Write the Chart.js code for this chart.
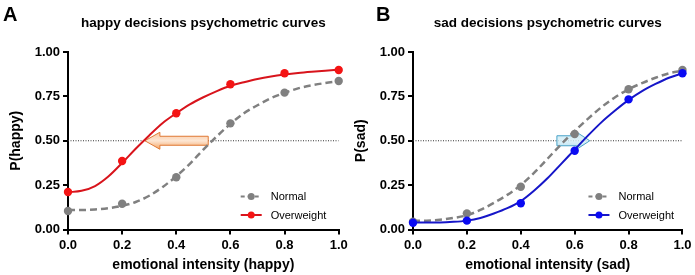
<!DOCTYPE html>
<html>
<head>
<meta charset="utf-8">
<script src="https://cdn.jsdelivr.net/npm/chart.js@4.4.1/dist/chart.umd.min.js"></script>
<style>
html, body { margin: 0; padding: 0; background: #fff; }
#wrap { position: relative; width: 695px; height: 275px; overflow: hidden; }
.panel { position: absolute; top: 0; }
#panelA { left: 0; }
#panelB { left: 345px; }
</style>
</head>
<body>
<div id="wrap">
	<div class="panel" id="panelA"><canvas id="chartA" width="352" height="275"></canvas></div>
	<div class="panel" id="panelB"><canvas id="chartB" width="350" height="275"></canvas></div>
</div>
<script>
// Emotional intensity levels tested
const intensityLevels = [0, 0.2, 0.4, 0.6, 0.8, 1.0];

// Positions at which the fitted curves are sampled
const curveX = [0, 0.05, 0.1, 0.15, 0.2, 0.25, 0.3, 0.35, 0.4, 0.45, 0.5, 0.55, 0.6, 0.65, 0.7, 0.75, 0.8, 0.85, 0.9, 0.95, 1.0];

// Happy decisions - observed proportions
const happyNormal     = [0.104, 0.145, 0.294, 0.598, 0.771, 0.837];
const happyOverweight = [0.211, 0.386, 0.655, 0.818, 0.880, 0.899];

// Happy decisions - fitted curves (read at curveX)
const happyNormalFit     = [0.110, 0.110, 0.113, 0.120, 0.133, 0.155, 0.190, 0.240, 0.300, 0.370, 0.450, 0.525, 0.595, 0.655, 0.700, 0.740, 0.770, 0.795, 0.812, 0.825, 0.835];
const happyOverweightFit = [0.210, 0.218, 0.245, 0.300, 0.375, 0.455, 0.530, 0.600, 0.655, 0.705, 0.745, 0.780, 0.810, 0.830, 0.848, 0.862, 0.873, 0.882, 0.889, 0.895, 0.900];

// Sad decisions - observed proportions
const sadNormal     = [0.044, 0.091, 0.241, 0.538, 0.790, 0.899];
const sadOverweight = [0.038, 0.050, 0.148, 0.444, 0.733, 0.880];

// Sad decisions - fitted curves (read at curveX)
const sadNormalFit     = [0.050, 0.050, 0.055, 0.065, 0.080, 0.110, 0.150, 0.195, 0.250, 0.320, 0.400, 0.480, 0.555, 0.625, 0.690, 0.745, 0.790, 0.825, 0.855, 0.880, 0.895];
const sadOverweightFit = [0.040, 0.040, 0.040, 0.043, 0.050, 0.065, 0.090, 0.120, 0.160, 0.220, 0.290, 0.370, 0.450, 0.530, 0.605, 0.670, 0.730, 0.780, 0.820, 0.855, 0.880];

// Tick labels
const xTicks = [0, 0.2, 0.4, 0.6, 0.8, 1.0];
const yTicks = [0, 0.25, 0.5, 0.75, 1.0];

// Chance level reference line, and the shift arrows along it [tail, tip]
const chanceLevel = 0.5;
const happyShift = [0.518, 0.284];
const sadShift   = [0.534, 0.656];

const FONT = '"Liberation Sans", Arial, sans-serif';
const GREY = '#808080';


// Function to zip x and y arrays into point objects
function toPoints (xs, ys)
{
	return xs.map((x, i) => ({x: x, y: ys[i]}));
}


// Function to draw a block arrow along a horizontal line
function drawArrow (ctx, x0, x1, y, style)
{
	const dir = Math.sign(x1 - x0);
	const xb = x1 - dir * style.headLength;
	ctx.save();
	ctx.beginPath();
	ctx.moveTo(x0, y - style.shaftHalf);
	ctx.lineTo(xb, y - style.shaftHalf);
	ctx.lineTo(xb, y - style.headHalf);
	ctx.lineTo(x1, y);
	ctx.lineTo(xb, y + style.headHalf);
	ctx.lineTo(xb, y + style.shaftHalf);
	ctx.lineTo(x0, y + style.shaftHalf);
	ctx.closePath();
	const grad = ctx.createLinearGradient(0, y - style.headHalf, 0, y + style.headHalf);
	style.fill.forEach((stop, i) => grad.addColorStop(i / (style.fill.length - 1), stop));
	ctx.fillStyle = grad;
	ctx.fill();
	ctx.lineWidth = 1;
	ctx.strokeStyle = style.stroke;
	ctx.stroke();
	ctx.restore();
}


// Plugin drawing the panel letter, legend and shift arrow
const decorPlugin = {
	id: 'decor',
	afterDatasetDraw (chart, args) {
		// Arrow goes just above the chance line (last dataset)
		if (args.index !== chart.data.datasets.length - 1) {return;}
		const o = chart.options.plugins.decor;
		const xs = chart.scales.x, ys = chart.scales.y;
		drawArrow(chart.ctx, xs.getPixelForValue(o.arrow[0]), xs.getPixelForValue(o.arrow[1]), ys.getPixelForValue(chanceLevel), o.arrowStyle);
	},
	afterDraw (chart) {
		const o = chart.options.plugins.decor;
		const ctx = chart.ctx;
		const area = chart.chartArea;
		ctx.save();
		
		// Panel letter
		ctx.fillStyle = '#000';
		ctx.font = 'bold 20px ' + FONT;
		ctx.textBaseline = 'alphabetic';
		ctx.fillText(o.letter, o.letterX, 21);
		
		// Legend
		o.legend.forEach((entry, i) => {
			const x = area.right + o.legendX;
			const y = area.bottom - 33 + i * 18.5;
			ctx.beginPath();
			ctx.setLineDash(entry.dash);
			ctx.lineWidth = 2;
			ctx.strokeStyle = entry.color;
			ctx.moveTo(x, y);
			ctx.lineTo(x + 21, y);
			ctx.stroke();
			ctx.setLineDash([]);
			ctx.beginPath();
			ctx.fillStyle = entry.point;
			ctx.arc(x + 10.5, y, 3.5, 0, Math.PI * 2);
			ctx.fill();
			ctx.fillStyle = '#000';
			ctx.font = '11px ' + FONT;
			ctx.textBaseline = 'middle';
			ctx.fillText(entry.label, x + 30, y + 0.5);
		});
		ctx.restore();
	}
};


// Function to create one panel
function makePanel (canvasId, p)
{
	const datasets = [
		{data: toPoints(intensityLevels, p.overweight), showLine: false, pointRadius: 4.2, pointBackgroundColor: p.pointColour, pointBorderWidth: 0, clip: false},
		{data: toPoints(intensityLevels, p.normal), showLine: false, pointRadius: 4.2, pointBackgroundColor: GREY, pointBorderWidth: 0, clip: false},
		{data: toPoints(curveX, p.overweightFit), borderColor: p.lineColour, borderWidth: 2, pointRadius: 0, cubicInterpolationMode: 'monotone'},
		{data: toPoints(curveX, p.normalFit), borderColor: GREY, borderWidth: 2.5, borderDash: [7, 4], pointRadius: 0, cubicInterpolationMode: 'monotone'},
		{data: toPoints([0, 1], [chanceLevel, chanceLevel]), borderColor: '#333', borderWidth: 1, borderDash: [1, 1.5], pointRadius: 0}
	];
	
	const axisFont = {family: FONT, size: 13, weight: 'bold'};
	
	return new Chart(document.getElementById(canvasId).getContext('2d'), {
		type: 'line',
		data: {datasets: datasets},
		plugins: [decorPlugin],
		options: {
			responsive: false,
			animation: false,
			devicePixelRatio: 1,
			layout: {padding: {left: 0, right: p.padRight, top: 0, bottom: 0}},
			plugins: {
				legend: {display: false},
				tooltip: {enabled: false},
				title: {
					display: true,
					text: p.title,
					fullSize: false,
					color: '#000',
					font: {family: FONT, size: 13.5, weight: 'bold'},
					padding: {top: 15, bottom: 20.8}
				},
				decor: {
					letter: p.letter,
					letterX: p.letterX,
					legendX: p.legendX,
					arrow: p.arrow,
					arrowStyle: p.arrowStyle,
					legend: [
						{label: 'Normal', color: GREY, point: GREY, dash: [4, 3]},
						{label: 'Overweight', color: p.lineColour, point: p.pointColour, dash: []}
					]
				}
			},
			scales: {
				x: {
					type: 'linear',
					min: 0,
					max: 1,
					afterBuildTicks: (scale) => { scale.ticks = xTicks.map(v => ({value: v})); },
					afterFit: (scale) => { scale.height = 45.5; },
					ticks: {color: '#000', font: axisFont, padding: 3.5, maxRotation: 0, callback: (v) => v.toFixed(1)},
					grid: {display: true, drawOnChartArea: false, drawTicks: true, tickLength: 5, color: '#000', lineWidth: 2},
					border: {display: true, color: '#000', width: 2},
					title: {display: true, text: p.xTitle, color: '#000', font: {family: FONT, size: 14, weight: 'bold'}, padding: {top: 0, bottom: 1}}
				},
				y: {
					type: 'linear',
					min: 0,
					max: 1,
					afterBuildTicks: (scale) => { scale.ticks = yTicks.map(v => ({value: v})); },
					afterFit: (scale) => { scale.width = 68; },
					ticks: {color: '#000', font: axisFont, padding: 3, callback: (v) => v.toFixed(2)},
					grid: {display: true, drawOnChartArea: false, drawTicks: true, tickLength: 5, color: '#000', lineWidth: 2},
					border: {display: true, color: '#000', width: 2},
					title: {display: true, text: p.yTitle, color: '#000', font: {family: FONT, size: 14, weight: 'bold'}, padding: {top: 7.5, bottom: 0}}
				}
			}
		}
	});
}


makePanel('chartA', {
	letter: 'A', letterX: 3, legendX: -98, padRight: 13.3,
	title: 'happy decisions psychometric curves',
	xTitle: 'emotional intensity (happy)',
	yTitle: 'P(happy)',
	normal: happyNormal, overweight: happyOverweight,
	normalFit: happyNormalFit, overweightFit: happyOverweightFit,
	lineColour: '#d8141c', pointColour: '#f41414',
	arrow: happyShift,
	arrowStyle: {headLength: 15, shaftHalf: 4.5, headHalf: 8.5, fill: ['#f9c7a0', '#fde6d3', '#f4a565'], stroke: '#e07a36'}
});

makePanel('chartB', {
	letter: 'B', letterX: 31, legendX: -94, padRight: 11,
	title: 'sad decisions psychometric curves',
	xTitle: 'emotional intensity (sad)',
	yTitle: 'P(sad)',
	normal: sadNormal, overweight: sadOverweight,
	normalFit: sadNormalFit, overweightFit: sadOverweightFit,
	lineColour: '#1616c8', pointColour: '#0a0af2',
	arrow: sadShift,
	arrowStyle: {headLength: 13, shaftHalf: 5, headHalf: 8.5, fill: ['rgba(190,228,242,0.8)', 'rgba(215,240,248,0.8)', 'rgba(160,212,234,0.8)'], stroke: '#4aa3c8'}
});
</script>
</body>
</html>
